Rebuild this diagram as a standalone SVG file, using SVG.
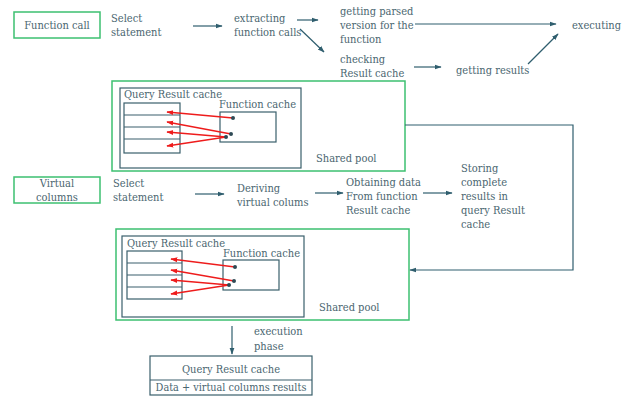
<svg xmlns="http://www.w3.org/2000/svg" width="637" height="397" viewBox="0 0 637 397">
<style>
text{font-family:'DejaVu Serif Condensed','DejaVu Serif',serif;font-stretch:condensed;font-size:11px;fill:#4a6670}
.g{fill:none;stroke:#3cc070;stroke-width:1.5}
.b{fill:none;stroke:#3a5f6c;stroke-width:1.2}
.c{fill:none;stroke:#2f5e6e;stroke-width:1.2}
.r{fill:none;stroke:#ee1c1c;stroke-width:1.3}
.d{fill:#2f4a55}
.m{text-anchor:middle}
</style>
<defs>
<marker id="a" viewBox="0 0 10 10" refX="9" refY="5" markerWidth="7" markerHeight="7" orient="auto" markerUnits="userSpaceOnUse"><path d="M0,1.5L10,5L0,8.5z" fill="#2f5e6e"/></marker>
<marker id="ra" viewBox="0 0 10 10" refX="9" refY="5" markerWidth="7" markerHeight="7" orient="auto" markerUnits="userSpaceOnUse"><path d="M0,1.5L10,5L0,8.5z" fill="#ee1c1c"/></marker>
</defs>
<g id="function-call"><rect class="g" x="14" y="12" width="86" height="26"/><text class="m" x="57" y="29">Function call</text></g>
<g id="select1"><text x="111" y="22">Select</text><text x="111" y="36">statement</text></g>
<g id="extracting"><text x="234" y="22">extracting</text><text x="234" y="36">function calls</text></g>
<g id="parsed"><text x="340" y="15">getting parsed</text><text x="340" y="29">version for the</text><text x="340" y="43">function</text></g>
<g id="executing"><text x="572" y="29">executing</text></g>
<g id="checking"><text x="340" y="63">checking</text><text x="340" y="77">Result cache</text></g>
<g id="getting-results"><text x="456" y="74">getting results</text></g>
<g id="shared-pool-1">
<rect class="g" x="112" y="81" width="293" height="90"/>
<rect class="b" x="120" y="88" width="181" height="80"/>
<text x="124" y="98">Query Result cache</text>
<rect class="b" x="124" y="103" width="56" height="50"/>
<line class="b" x1="124" y1="115" x2="180" y2="115"/><line class="b" x1="124" y1="127" x2="180" y2="127"/><line class="b" x1="124" y1="139" x2="180" y2="139"/>
<text x="219" y="108">Function cache</text>
<rect class="b" x="220" y="112" width="56" height="30"/>
<line class="r" marker-end="url(#ra)" x1="233" y1="118" x2="167" y2="112"/>
<line class="r" marker-end="url(#ra)" x1="231" y1="134" x2="167" y2="122"/>
<line class="r" marker-end="url(#ra)" x1="226" y1="137" x2="167" y2="132"/>
<line class="r" marker-end="url(#ra)" x1="226" y1="137" x2="167" y2="146"/>
<circle class="d" cx="233" cy="118" r="2"/><circle class="d" cx="231" cy="134" r="2"/><circle class="d" cx="226" cy="137" r="2"/>
<text x="316" y="162">Shared pool</text>
</g>
<g id="virtual-columns"><rect class="g" x="14" y="177" width="86" height="26"/><text class="m" x="57" y="187">Virtual</text><text class="m" x="57" y="201">columns</text></g>
<g id="select2"><text x="113" y="187">Select</text><text x="113" y="201">statement</text></g>
<g id="deriving"><text x="237" y="192">Deriving</text><text x="237" y="206">virtual colums</text></g>
<g id="obtaining"><text x="346" y="186">Obtaining data</text><text x="346" y="200">From function</text><text x="346" y="214">Result cache</text></g>
<g id="storing"><text x="461" y="172">Storing</text><text x="461" y="186">complete</text><text x="461" y="200">results in</text><text x="461" y="214">query Result</text><text x="461" y="228">cache</text></g>
<g id="shared-pool-2">
<rect class="g" x="116" y="229" width="293" height="91"/>
<rect class="b" x="122" y="236" width="182" height="81"/>
<text x="127" y="247">Query Result cache</text>
<rect class="b" x="127" y="251" width="55" height="48"/>
<line class="b" x1="127" y1="263" x2="182" y2="263"/><line class="b" x1="127" y1="275" x2="182" y2="275"/><line class="b" x1="127" y1="287" x2="182" y2="287"/>
<text x="223" y="257">Function cache</text>
<rect class="b" x="223" y="260" width="56" height="30"/>
<line class="r" marker-end="url(#ra)" x1="235" y1="267" x2="171" y2="259"/>
<line class="r" marker-end="url(#ra)" x1="234" y1="281" x2="171" y2="270"/>
<line class="r" marker-end="url(#ra)" x1="229" y1="285" x2="171" y2="280"/>
<line class="r" marker-end="url(#ra)" x1="229" y1="285" x2="171" y2="294"/>
<circle class="d" cx="235" cy="267" r="2"/><circle class="d" cx="234" cy="281" r="2"/><circle class="d" cx="229" cy="285" r="2"/>
<text x="319" y="311">Shared pool</text>
</g>
<g id="execution-phase"><text x="254" y="335">execution</text><text x="254" y="350">phase</text></g>
<g id="query-result-cache">
<rect class="b" x="150" y="356" width="162" height="39"/>
<line class="b" x1="150" y1="380" x2="312" y2="380"/>
<text class="m" x="231" y="373">Query Result cache</text>
<text class="m" x="231" y="391" style="font-size:10.8px">Data + virtual columns results</text>
</g>
<g id="connectors">
<path class="c" marker-end="url(#a)" d="M193,26H222"/>
<path class="c" marker-end="url(#a)" d="M297,20H318"/>
<path class="c" marker-end="url(#a)" d="M300,29L324,52"/>
<path class="c" marker-end="url(#a)" d="M415,24H556"/>
<path class="c" marker-end="url(#a)" d="M414,67H441"/>
<path class="c" marker-end="url(#a)" d="M528,64L558,34"/>
<path class="c" marker-end="url(#a)" d="M405,125H573V270H410"/>
<path class="c" marker-end="url(#a)" d="M195,194H224"/>
<path class="c" marker-end="url(#a)" d="M315,193H343"/>
<path class="c" marker-end="url(#a)" d="M423,193H452"/>
<path class="c" marker-end="url(#a)" d="M232,326V354"/>
</g>
</svg>
